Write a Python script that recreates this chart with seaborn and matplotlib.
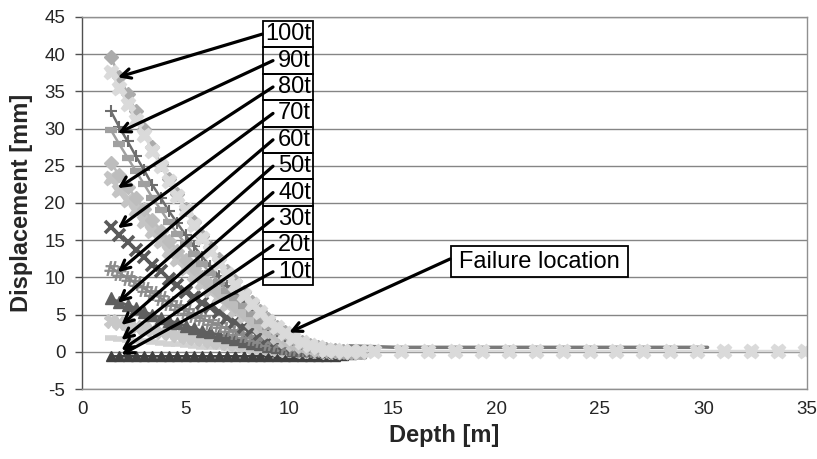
import matplotlib
matplotlib.use("Agg")
import matplotlib.pyplot as plt
import seaborn as sns
from matplotlib.patches import Rectangle

# ---------------- data ----------------
depth = [1.4, 1.8, 2.2, 2.6, 3.0, 3.4, 3.8, 4.2, 4.6, 5.0, 5.4, 5.8, 6.2, 6.6, 7.0, 7.4,
         7.8, 8.2, 8.6, 9.0, 9.4, 9.8, 10.2, 10.6, 11.0, 11.4, 11.8, 12.2, 12.6, 13.0, 13.4]
depth_tail = [14.1, 15.4, 16.7, 18.0, 19.3, 20.6, 21.9, 23.2, 24.5, 25.8, 27.1, 28.4,
              29.7, 31.0, 32.3, 33.6, 34.9]
depth_flat = [12.9, 15.2, 20.0, 25.0, 30.2]

disp_a = [39.6, 37.0, 34.7, 32.3, 29.9, 27.5, 25.3, 23.2, 21.2, 19.2, 17.4, 15.6, 14.1, 12.5,
          10.9, 9.5, 8.1, 6.7, 5.5, 4.4, 3.4, 2.6, 1.9, 1.3, 0.9, 0.6, 0.4, 0.2, 0.1, 0.0, 0.0]
disp_b = [37.6, 35.4, 33.3, 31.2, 29.1, 27.0, 25.0, 23.0, 21.0, 19.0, 17.1, 15.3, 13.6, 12.0,
          10.4, 9.0, 7.7, 6.4, 5.3, 4.1, 3.3, 2.5, 1.8, 1.3, 0.9, 0.6, 0.3, 0.2, 0.1, 0.1, 0.1]
disp_b_tail = [0.1, 0.1, 0.1, 0.1, 0.1, 0.1, 0.1, 0.1, 0.1, 0.1, 0.1, 0.1, 0.1, 0.1, 0.1,
               0.1, 0.1]
disp_c = [32.3, 30.2, 28.3, 26.3, 24.4, 22.4, 20.7, 18.9, 17.3, 15.7, 14.2, 12.8, 11.5, 10.2,
          8.9, 7.8, 6.6, 5.5, 4.5, 3.6, 2.8, 2.1, 1.6, 1.1, 0.7, 0.5, 0.3, 0.2, 0.1, 0.0, 0.0]
disp_d = [29.8, 27.9, 26.1, 24.3, 22.5, 20.7, 19.1, 17.4, 15.9, 14.5, 13.1, 11.8, 10.6, 9.4,
          8.2, 7.2, 6.1, 5.1, 4.2, 3.3, 2.6, 2.0, 1.4, 1.0, 0.7, 0.4, 0.3, 0.1, 0.1, 0.0, 0.0]
disp_e = [25.4, 23.7, 22.2, 20.7, 19.2, 17.7, 16.3, 14.9, 13.6, 12.3, 11.2, 10.0, 9.0, 8.0,
          7.0, 6.1, 5.2, 4.3, 3.6, 2.8, 2.2, 1.7, 1.2, 0.9, 0.6, 0.4, 0.2, 0.1, 0.1, 0.0, 0.0]
disp_f = [23.3, 21.8, 20.4, 19.0, 17.6, 16.2, 14.9, 13.6, 12.5, 11.3, 10.3, 9.2, 8.3, 7.3,
          6.4, 5.6, 4.8, 4.0, 3.3, 2.6, 2.0, 1.5, 1.1, 0.8, 0.5, 0.3, 0.2, 0.1, 0.0, 0.0, 0.0]
disp_g = [16.8, 15.7, 14.7, 13.7, 12.7, 11.7, 10.8, 9.8, 9.0, 8.1, 7.4, 6.6, 6.0, 5.3,
          4.6, 4.0, 3.4, 2.9, 2.4, 1.8, 1.5, 1.1, 0.8, 0.6, 0.4, 0.3, 0.2, 0.1, 0.0, 0.0, 0.0]
disp_h = [11.3, 10.6, 9.9, 9.2, 8.5, 7.9, 7.2, 6.6, 6.0, 5.5, 5.0, 4.5, 4.0, 3.6,
          3.1, 2.7, 2.3, 1.9, 1.6, 1.2, 1.0, 0.7, 0.5, 0.4, 0.3, 0.2, 0.1, 0.1, 0.0, 0.0, 0.0]
disp_i = [7.2, 6.7, 6.3, 5.9, 5.4, 5.0, 4.6, 4.2, 3.9, 3.5, 3.2, 2.8, 2.6, 2.3,
          2.0, 1.7, 1.5, 1.2, 1.0, 0.8, 0.6, 0.5, 0.3, 0.2, 0.2, 0.1, 0.1, 0.0, 0.0, 0.0, 0.0]
disp_j = [4.2, 3.9, 3.7, 3.4, 3.2, 2.9, 2.7, 2.5, 2.2, 2.0, 1.8, 1.7, 1.5, 1.3,
          1.2, 1.0, 0.9, 0.7, 0.6, 0.5, 0.4, 0.3, 0.2, 0.1, 0.1, 0.1, 0.0, 0.0, 0.0, 0.0, 0.0]
disp_k = [1.8, 1.7, 1.6, 1.5, 1.4, 1.3, 1.2, 1.1, 1.0, 0.9, 0.8, 0.7, 0.6, 0.6,
          0.5, 0.4, 0.4, 0.3, 0.3, 0.2, 0.2, 0.1, 0.1, 0.1, 0.0, 0.0, 0.0, 0.0, 0.0, 0.0, 0.0]
disp_m = [-0.6, -0.6, -0.6, -0.6, -0.6, -0.6, -0.6, -0.6, -0.6, -0.6, -0.6, -0.6, -0.6, -0.6,
          -0.6, -0.6, -0.6, -0.6, -0.6, -0.6, -0.6, -0.6, -0.6, -0.6, -0.6, -0.6, -0.5, -0.5,
          -0.4, -0.3, -0.2]
disp_flat = [0.8, 0.6, 0.6, 0.6, 0.6]

load_labels = ["100t", "90t", "80t", "70t", "60t", "50t", "40t", "30t", "20t", "10t"]
label_targets = [(1.73, 36.9), (1.73, 29.4), (1.73, 22.0), (1.73, 16.6), (1.73, 10.7),
                 (1.73, 6.6), (1.9, 3.6), (1.9, 1.6), (1.9, 0.2), (1.9, -0.4)]
failure_text = "Failure location"
failure_target = (10.0, 2.6)

xticks = [0, 5, 10, 15, 20, 25, 30, 35]
yticks = [-5, 0, 5, 10, 15, 20, 25, 30, 35, 40, 45]

# ---------------- figure ----------------
sns.set_theme(style="white")
plt.rcParams["font.family"] = ["Liberation Sans", "DejaVu Sans"]
plt.rcParams["axes.unicode_minus"] = False

W, H = 817, 459
fig = plt.figure(figsize=(W / 100, H / 100), dpi=100)
L, R, T, B = 82, 807, 17, 389
ax = fig.add_axes([L / W, 1 - B / H, (R - L) / W, (B - T) / H])
ax.set_xlim(0, 35)
ax.set_ylim(-5, 45)


def draw(x, y, color, marker, ms, mew=1.0, lw=1.8, z=2):
    sns.lineplot(x=x, y=y, ax=ax, color=color, marker=marker, markersize=ms,
                 markeredgecolor=color, markerfacecolor=color, markeredgewidth=mew,
                 linewidth=lw, estimator=None, sort=False, legend=False, zorder=z)


draw(depth, disp_m, "#404040", "^", 7, z=2)
draw(depth, disp_k, "#d2d2d2", "_", 9, mew=4, z=2)
draw(depth, disp_j, "#c8c8c8", "X", 10, z=2)
draw(depth, disp_i, "#5f5f5f", "^", 8.5, z=2)
draw(depth, disp_h, "#8a8a8a", "$\\#$", 10, mew=0.6, z=2)
draw(depth, disp_g, "#5a5a5a", "x", 8, mew=2.6, z=2)
draw(depth, disp_f, "#c4c4c4", "X", 10.5, z=2)
draw(depth, disp_e, "#bdbdbd", "D", 7, z=2)
draw(depth, disp_c, "#6e6e6e", "+", 9, mew=1.5, z=2)
draw(depth, disp_d, "#a0a0a0", "_", 8.5, mew=4.5, z=2)
draw(depth, disp_a, "#ababab", "D", 7.5, z=2)
draw(depth_flat, disp_flat, "#7a7a7a", None, 0, lw=2.5, z=2)
draw(depth + depth_tail, disp_b + disp_b_tail, "#dadada", "X", 10.5, z=2)

# axes styling
ax.set_xticks(xticks)
ax.set_yticks(yticks)
ax.yaxis.grid(True, color="#858585", lw=1)
ax.xaxis.grid(False)
ax.set_axisbelow(True)
for s in ["top", "right", "bottom"]:
    ax.spines[s].set_color("#909090")
    ax.spines[s].set_linewidth(1)
ax.spines["left"].set_color("#505050")
ax.spines["left"].set_linewidth(1)
ax.tick_params(axis="y", direction="out", length=5, width=1, color="#505050",
               labelsize=13.5, pad=7, left=True)
ax.tick_params(axis="x", length=0, labelsize=13.5, pad=9)
ax.set_xlabel("Depth [m]", fontsize=17, fontweight="bold", labelpad=4)
ax.set_ylabel("Displacement [mm]", fontsize=17, fontweight="bold", labelpad=8)

# load labels with arrows
box_left, box_w, box_top, box_h = 263, 50, 21, 26.4
for i, (lab, tgt) in enumerate(zip(load_labels, label_targets)):
    top = box_top + i * box_h
    cy = top + box_h / 2
    fig.add_artist(Rectangle((box_left / W, 1 - (top + box_h) / H), box_w / W, box_h / H,
                             transform=fig.transFigure, fill=False, ec="black", lw=1.3,
                             zorder=10))
    fig.text((box_left + box_w - 2) / W, 1 - cy / H, lab, ha="right", va="center",
             fontsize=17, color="black", zorder=11)
    tx = 262 if i == 0 else 273
    ax.annotate("", xy=tgt, xycoords="data", xytext=(tx, H - cy),
                textcoords="figure pixels", annotation_clip=False, zorder=12,
                arrowprops=dict(arrowstyle="->", color="black", lw=2.3, shrinkA=0,
                                shrinkB=0, mutation_scale=17))

# failure location label
fx0, fy0, fx1, fy1 = 451, 246, 628, 277
fig.add_artist(Rectangle((fx0 / W, 1 - fy1 / H), (fx1 - fx0) / W, (fy1 - fy0) / H,
                         transform=fig.transFigure, fill=False, ec="black", lw=1.3,
                         zorder=10))
fig.text((fx0 + fx1) / 2 / W, 1 - (fy0 + fy1) / 2 / H, failure_text, ha="center",
         va="center", fontsize=17, color="black", zorder=11)
ax.annotate("", xy=failure_target, xycoords="data", xytext=(fx0 - 1, H - 259),
            textcoords="figure pixels", annotation_clip=False, zorder=12,
            arrowprops=dict(arrowstyle="->", color="black", lw=2.3, shrinkA=0, shrinkB=0,
                            mutation_scale=17))

fig.savefig("out.png", dpi=100)
